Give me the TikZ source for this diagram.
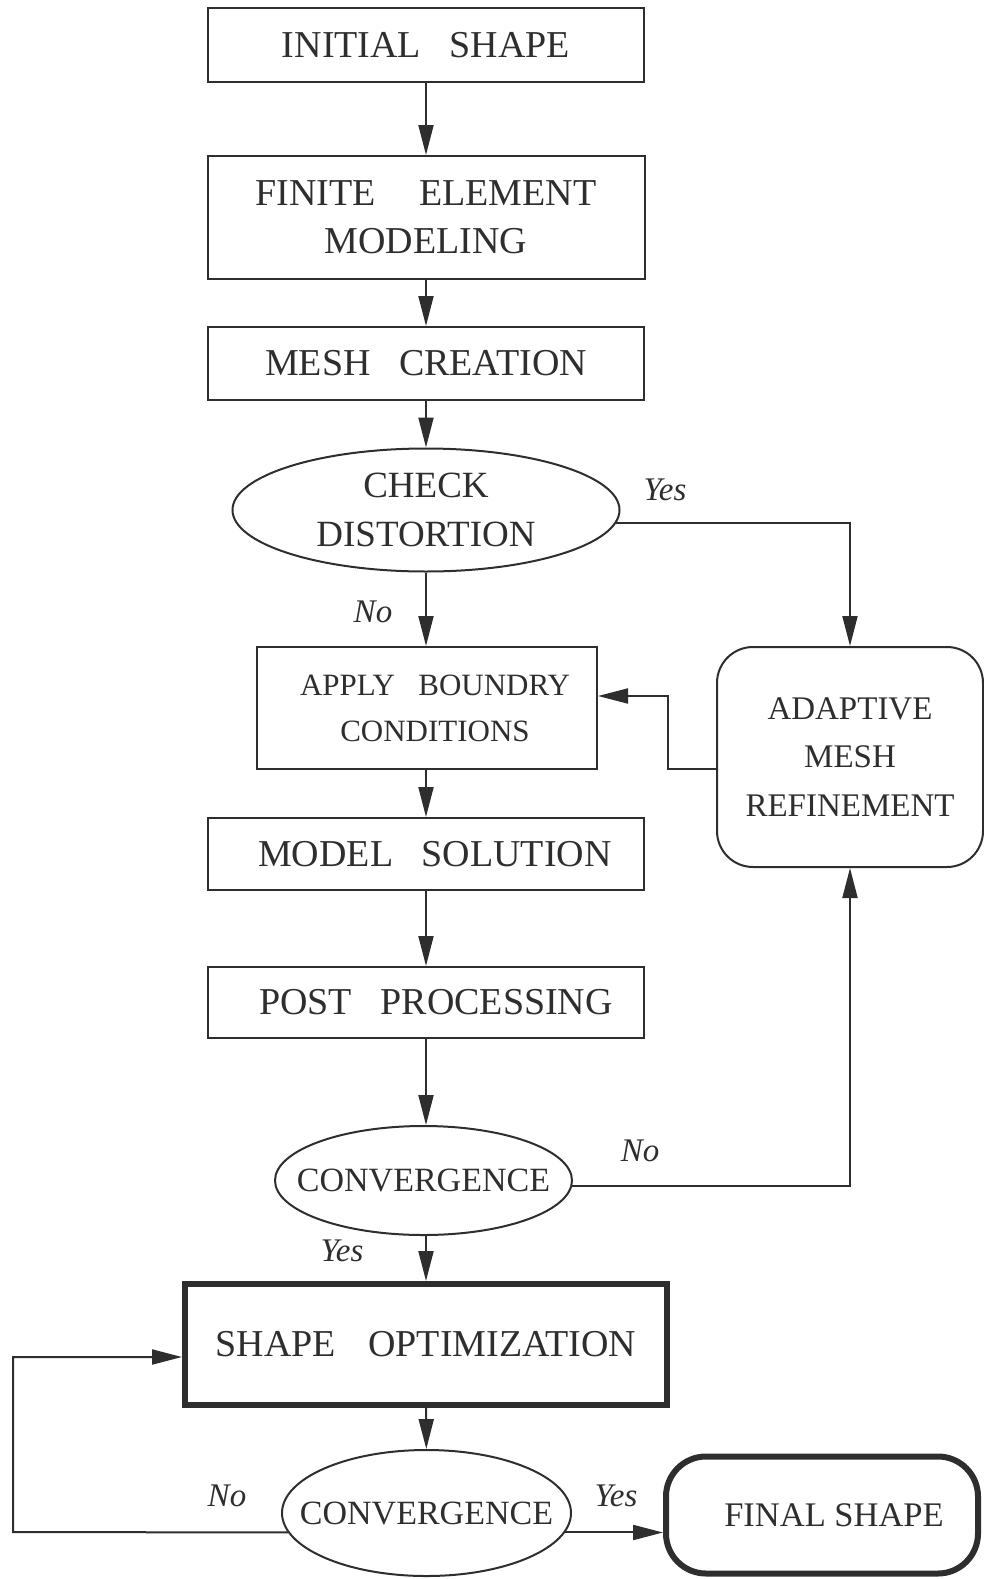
\documentclass[tikz,border=0pt]{standalone}
\usepackage{fontspec}
\setmainfont{Liberation Serif}
\usetikzlibrary{arrows.meta,shapes.geometric,calc}
\definecolor{ink}{gray}{0.18}
\newcommand{\wsp}{\hspace{0.75em}}
\begin{document}
\begin{tikzpicture}[x=1pt,y=-1pt,
  box/.style={draw=ink, line width=2pt, rectangle, inner sep=0pt, align=center, text=ink},
  oval/.style={draw=ink, line width=2pt, ellipse, inner sep=0pt, align=center, text=ink},
  fbig/.style={font=\fontsize{38}{48}\selectfont},
  fsmall/.style={font=\fontsize{31}{46}\selectfont},
  ovtext/.style={text=ink, inner sep=0pt, font=\fontsize{34}{48}\selectfont},
  arr/.style={draw=ink, line width=2pt, -{Triangle[length=30pt,width=15pt]}},
  lab/.style={text=ink, inner sep=0pt, font=\itshape\fontsize{33}{38}\selectfont}
]
\useasboundingbox (0,0) rectangle (984,1579);

\node[box,fbig,minimum width=436pt,minimum height=74pt] (init) at (426,45) {INITIAL\wsp SHAPE};
\node[box,fbig,minimum width=437pt,minimum height=123pt] (fem) at (426,217.5) {FINITE\hspace{0.9em} ELEMENT\\MODELING};
\node[box,fbig,minimum width=436pt,minimum height=73pt] (mesh) at (426,363.5) {MESH\wsp CREATION};
\node[oval,font=\fontsize{37}{49}\selectfont,minimum width=387pt,minimum height=123pt] (check) at (426,510) {CHECK\\DISTORTION};
\node[box,fsmall,minimum width=340pt,minimum height=122pt] (apply) at (427,708) {\hspace*{16pt}APPLY\wsp BOUNDRY\\\hspace*{16pt}CONDITIONS};
\node[box,font=\fontsize{33}{48.5}\selectfont,minimum width=266pt,minimum height=220pt,rounded corners=36pt] (adapt) at (850,757) {ADAPTIVE\\MESH\\REFINEMENT};
\node[box,fbig,minimum width=436pt,minimum height=72pt] (model) at (426,854) {\hspace*{18pt}MODEL\wsp SOLUTION};
\node[box,fbig,minimum width=436pt,minimum height=71pt] (post) at (426,1002.5) {\hspace*{20pt}POST\wsp PROCESSING};
\node[oval,minimum width=297pt,minimum height=109pt,label={[ovtext]center:CONVERGENCE}] (conv1) at (423.5,1180.5) {};
\node[box,fbig,line width=6pt,minimum width=482pt,minimum height=121pt] (opt) at (426,1344.5) {SHAPE\hspace{0.6em} OPTIMIZATION};
\node[oval,minimum width=289pt,minimum height=126pt,label={[ovtext]center:CONVERGENCE}] (conv2) at (426.5,1513) {};
\node[box,font=\fontsize{34.5}{40}\selectfont,line width=6pt,minimum width=312pt,minimum height=117pt,rounded corners=40pt] (final) at (822,1515) {\hspace*{24pt}FINAL SHAPE};

\coordinate (k) at (668,769);
\coordinate (lp) at (13,1532);

\draw[arr] (init) -- (fem);
\draw[arr] (fem) -- (mesh);
\draw[arr] (mesh) -- (check);
\draw[arr] (check.south |- check.south) -- (check.south |- apply.north);
\draw[arr] (apply.south -| model.north) -- (model.north);
\draw[arr] (model) -- (post);
\draw[arr] (post.south) -- (post.south |- conv1.north);
\draw[arr] (opt.north |- conv1.south) -- (opt.north);
\draw[arr] (opt) -- (conv2);
\draw[arr] (check.-4) -| (adapt.north);
\draw[arr] ([yshift=-12pt]adapt.west) -- (k) |- ([yshift=12pt]apply.east);
\draw[arr] (conv1.-2) -| (adapt.south);
\draw[arr] (conv2.-172) -- (lp) |- ([yshift=-12.5pt]opt.west);
\draw[arr] (conv2.-8) -- (conv2.-8 -| final.west);

\node[lab] (l1) at (665,490) {Yes};
\node[lab] (l2) at (373,612) {No};
\node[lab] (l3) at (640,1151) {No};
\node[lab] (l4) at (342,1251) {Yes};
\node[lab] (l5) at (227,1496) {No};
\node[lab] (l6) at (616,1496) {Yes};
\end{tikzpicture}
\end{document}
